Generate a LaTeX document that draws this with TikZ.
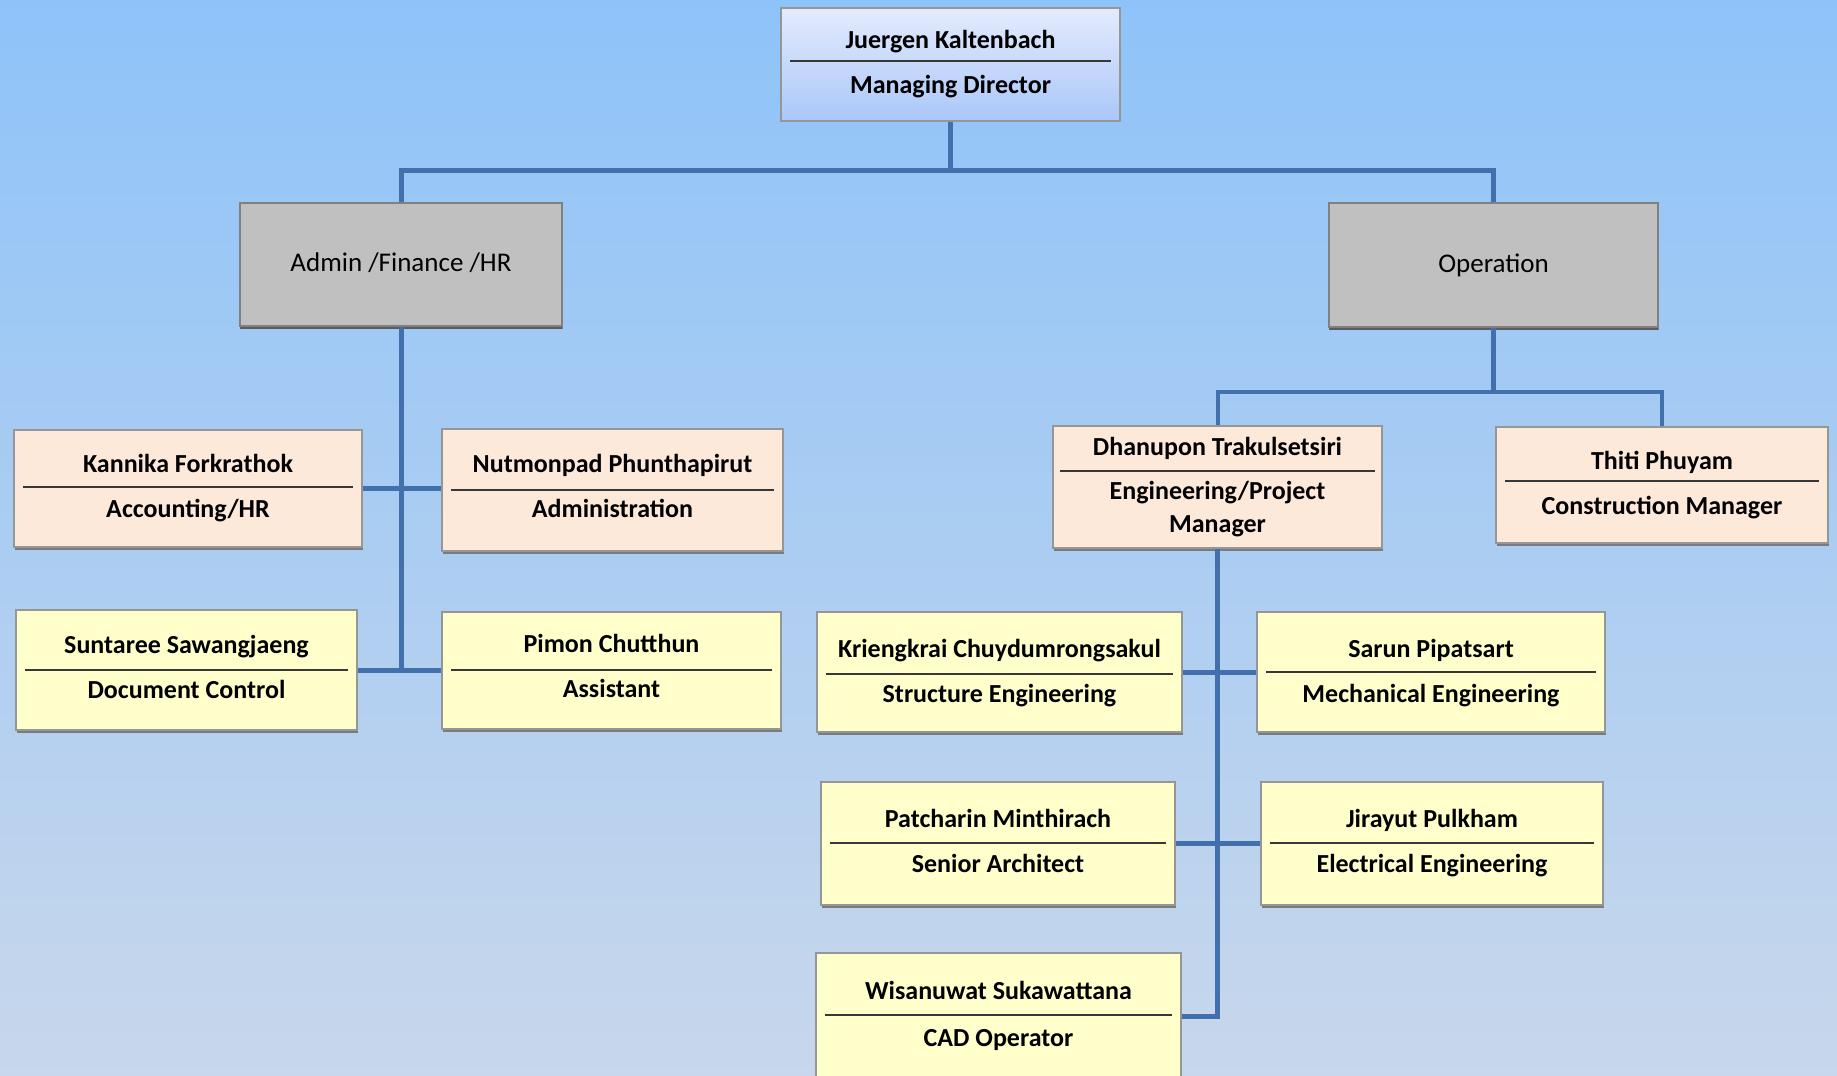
\documentclass[tikz,border=0pt]{standalone}
\usepackage{fontspec}
\setmainfont{Carlito}
\usetikzlibrary{shadows,calc}
\definecolor{bgtop}{RGB}{142,195,249}
\definecolor{bgbot}{RGB}{200,215,235}
\definecolor{conncol}{RGB}{66,112,172}
\definecolor{sepcol}{RGB}{55,55,55}
\definecolor{grayfill}{RGB}{192,192,192}
\definecolor{peach}{RGB}{253,233,217}
\definecolor{lightyellow}{RGB}{255,255,204}
\definecolor{mdtop}{RGB}{228,235,253}
\definecolor{mdbot}{RGB}{170,199,249}
\definecolor{edgecol}{RGB}{150,150,150}
\newcommand\mkbox[6]{\node[#2, minimum width={(#5-#3)*1pt}, minimum height={(#6-#4)*1pt}] (#1) at ({(#3+#5)/2},{(#4+#6)/2}) {};}
\newcommand\mklabels[6]{%
  \node[nametext] (#1n) at (#1 |- 0,#2) {#5};
  \draw[sepline] ($(#1.west |- 0,#3)+(10,0)$) -- ($(#1.east |- 0,#3)+(-10,0)$);
  \node[nametext] (#1r) at (#1 |- 0,#4) {#6};}
\begin{document}
\begin{tikzpicture}[x=1pt,y=-1pt,
  boxbase/.style={rectangle, inner sep=0pt, draw=edgecol, line width=1.2pt,
     drop shadow={shadow xshift=1pt, shadow yshift=-3pt, fill=black!55, opacity=0.9}},
  peachbox/.style={boxbase, fill=peach},
  yellowbox/.style={boxbase, fill=lightyellow},
  graybox/.style={boxbase, fill=grayfill, draw=black!50,
     drop shadow={shadow xshift=0pt, shadow yshift=-3pt, fill=black!65, opacity=0.9}},
  mdbox/.style={rectangle, inner sep=0pt, draw=edgecol, line width=1.2pt, top color=mdtop, bottom color=mdbot},
  nametext/.style={anchor=base, inner sep=0pt, font=\fontsize{26}{33}\selectfont\bfseries, text=black},
  unittext/.style={anchor=base, inner sep=0pt, font=\fontsize{27}{32}\selectfont, text=black},
  sepline/.style={draw=sepcol, line width=2pt},
  conn/.style={draw=conncol, line width=5pt}]
\useasboundingbox (0,0) rectangle (1837,1076);
\fill[top color=bgtop, bottom color=bgbot] (0,0) rectangle (1837,1076);

\coordinate (busA) at (0,170);
\coordinate (busB) at (0,392);

% boxes
\mkbox{md}{mdbox}{781}{8}{1120}{121}
\mkbox{admin}{graybox}{240}{203}{562}{326}
\mkbox{ops}{graybox}{1329}{203}{1658}{327}
\mkbox{kan}{peachbox}{14}{430}{362}{547}
\mkbox{nut}{peachbox}{442}{429}{783}{551}
\mkbox{sun}{yellowbox}{16}{610}{357}{730}
\mkbox{pim}{yellowbox}{442}{612}{781}{729}
\mkbox{dha}{peachbox}{1053}{426}{1382}{548}
\mkbox{thi}{peachbox}{1496}{427}{1828}{543}
\mkbox{kri}{yellowbox}{817}{612}{1182}{732}
\mkbox{sar}{yellowbox}{1257}{612}{1605}{732}
\mkbox{pat}{yellowbox}{821}{782}{1175}{905}
\mkbox{jir}{yellowbox}{1261}{782}{1603}{905}
\mkbox{wis}{yellowbox}{816}{953}{1181}{1079}

% connectors
\draw[conn] (md.south) -- (md.south |- busA);
\draw[conn] (admin.north) |- (busA -| ops.north) -- (ops.north);
\draw[conn] (admin.south) -- (admin.south |- sun.east);
\draw[conn] (kan.east) -- (kan.east -| nut.west);
\draw[conn] (sun.east) -- (sun.east -| pim.west);
\draw[conn] (ops.south) -- (ops.south |- busB);
\draw[conn, line width=4pt] (dha.north) |- (busB -| thi.north) -- (thi.north);
\draw[conn] (dha.south) |- (wis.east);
\draw[conn] (kri.east) -- (kri.east -| sar.west);
\draw[conn] (pat.east) -- (pat.east -| jir.west);

% labels
\mklabels{md}{48}{61}{93}{Juergen Kaltenbach}{Managing Director}
\node[unittext] (admint) at (admin |- 0,271) {Admin /Finance /HR};
\node[unittext] (opst) at (ops |- 0,272) {Operation};
\mklabels{kan}{472}{487}{517}{Kannika Forkrathok}{Accounting/HR}
\mklabels{nut}{472}{490}{517}{Nutmonpad Phunthapirut}{Administration}
\mklabels{sun}{653}{670}{698}{Suntaree Sawangjaeng}{Document Control}
\mklabels{pim}{652}{670}{697}{Pimon Chutthun}{Assistant}
\node[nametext] (dhan) at (dha |- 0,455) {Dhanupon Trakulsetsiri};
\draw[sepline] ($(dha.west |- 0,471)+(8,0)$) -- ($(dha.east |- 0,471)+(-8,0)$);
\node[nametext, anchor=north, align=center] (dhar) at (dha |- 0,481) {Engineering/Project\\Manager};
\mklabels{thi}{469}{481}{514}{Thiti Phuyam}{Construction Manager}
\mklabels{kri}{657}{674}{702}{Kriengkrai Chuydumrongsakul}{Structure Engineering}
\mklabels{sar}{657}{672}{702}{Sarun Pipatsart}{Mechanical Engineering}
\mklabels{pat}{827}{843}{872}{Patcharin Minthirach}{Senior Architect}
\mklabels{jir}{827}{843}{872}{Jirayut Pulkham}{Electrical Engineering}
\mklabels{wis}{999}{1015}{1046}{Wisanuwat Sukawattana}{CAD Operator}
\end{tikzpicture}
\end{document}
